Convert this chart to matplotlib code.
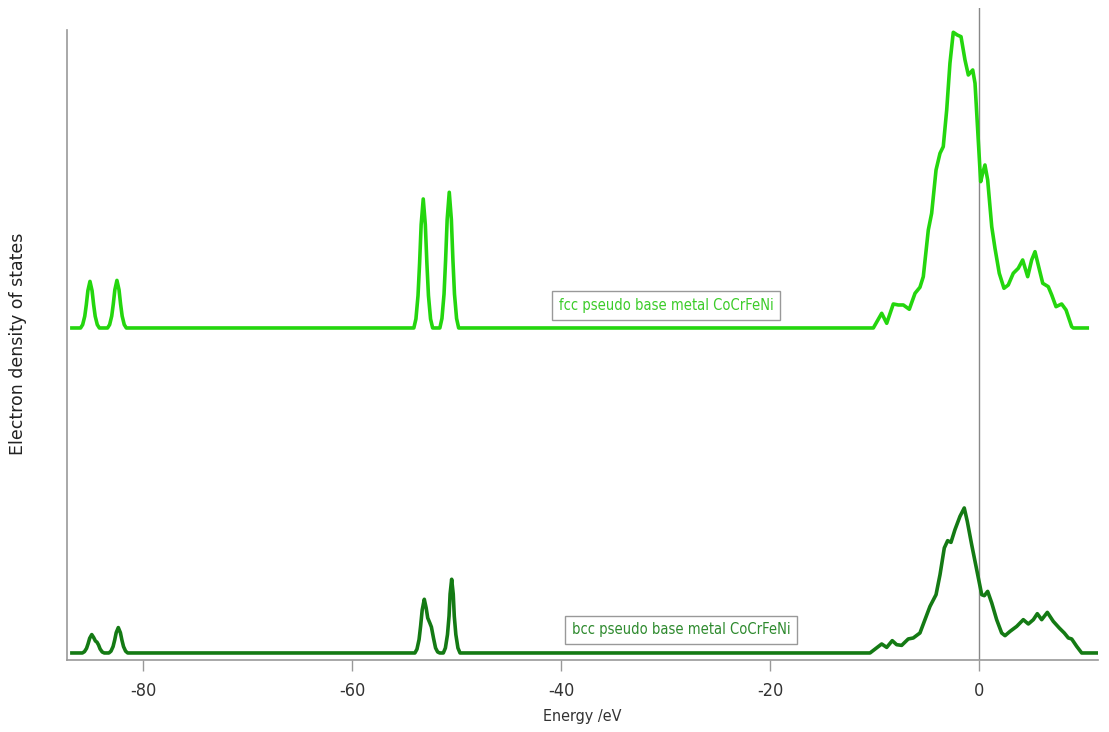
import matplotlib
matplotlib.use('Agg')
import numpy as np
import matplotlib.pyplot as plt

# energies (eV) and DOS (arb. units) for the two CoCrFeNi structures
E_fcc = [-86.8,
         -85.97, -85.77, -85.57, -85.42, -85.27, -85.07, -84.87, -84.72, -84.57, -84.37, -84.17,
         -83.39, -83.19, -82.99, -82.84, -82.69, -82.49, -82.29, -82.14, -81.99, -81.79, -81.59,
         -54.08, -53.88, -53.68, -53.53, -53.38, -53.18, -52.98, -52.83, -52.68, -52.48, -52.28,
         -51.59, -51.39, -51.19, -51.04, -50.89, -50.69, -50.49, -50.34, -50.19, -49.99, -49.79,
         -10.11, -9.31, -8.83, -8.20, -7.72, -7.24, -6.67, -6.12, -5.65, -5.33, -4.85,
         -4.53, -4.11, -3.73, -3.42, -3.09, -2.78, -2.46, -2.08, -1.72, -1.34, -1.02,
         -0.60, -0.38, -0.07, 0.16, 0.35, 0.57, 0.83, 1.22, 1.53, 1.94, 2.39, 2.80,
         3.28, 3.76, 4.18, 4.66, 5.04, 5.36, 5.67, 6.10, 6.63, 6.96, 7.37, 7.91,
         8.33, 8.87, 9.02, 10.36]
dos_fcc = [0,
           0, 0.33, 1.17, 2.33, 3.73, 4.66, 3.73, 2.33, 1.17, 0.33, 0,
           0, 0.33, 1.19, 2.38, 3.81, 4.76, 3.81, 2.38, 1.19, 0.33, 0,
           0, 0.9, 3.23, 6.45, 10.32, 12.9, 10.32, 6.45, 3.23, 0.9, 0,
           0, 0.95, 3.39, 6.79, 10.86, 13.57, 10.86, 6.79, 3.39, 0.95, 0,
           0, 1.47, 0.47, 2.4, 2.3, 2.3, 1.87, 3.47, 4.07, 5.13, 9.8,
           11.47, 15.8, 17.47, 18.13, 21.8, 26.47, 29.57, 29.3, 29.13, 26.8, 25.3,
           25.8, 24.47, 18.8, 14.63, 15.47, 16.3, 14.8, 10.13, 7.97, 5.47, 3.97, 4.3,
           5.47, 5.97, 6.8, 5.13, 6.8, 7.63, 6.3, 4.47, 4.13, 3.3, 2.13, 2.4,
           1.8, 0.13, 0, 0]

E_bcc = [-86.8,
         -85.8, -85.6, -85.4, -85.25, -85.1, -84.9, -84.72, -84.55, -84.4, -84.25, -84.1, -83.9, -83.7,
         -83.26, -83.06, -82.86, -82.71, -82.56, -82.36, -82.16, -82.01, -81.86, -81.66, -81.46,
         -53.98, -53.78, -53.58, -53.43, -53.28, -53.08, -52.9, -52.75, -52.55, -52.4, -52.2, -52.0, -51.8, -51.6,
         -51.26, -51.06, -50.86, -50.71, -50.61, -50.46, -50.31, -50.21, -50.06, -49.86, -49.66,
         -10.43, -9.31, -8.83, -8.30, -7.88, -7.40, -6.77, -6.29, -5.65, -5.17, -4.69,
         -4.11, -3.73, -3.32, -3.00, -2.68, -2.30, -1.82, -1.41, -1.12, -0.70, -0.22,
         0.26, 0.51, 0.83, 1.22, 1.69, 2.17, 2.49, 2.97, 3.61, 4.24, 4.72,
         5.20, 5.58, 6.00, 6.54, 7.11, 7.68, 8.16, 8.55, 8.87, 9.35, 9.83, 11.32]
dos_bcc = [0,
           0, 0.13, 0.46, 0.92, 1.47, 1.84, 1.55, 1.2, 1.08, 0.8, 0.4, 0.1, 0,
           0, 0.18, 0.64, 1.27, 2.03, 2.54, 2.03, 1.27, 0.64, 0.18, 0,
           0, 0.38, 1.34, 2.7, 4.3, 5.37, 4.5, 3.5, 3.0, 2.6, 1.5, 0.5, 0.1, 0,
           0, 0.5, 1.84, 3.69, 5.9, 7.37, 5.9, 3.69, 1.84, 0.5, 0,
           0, 0.9, 0.56, 1.23, 0.83, 0.76, 1.4, 1.5, 2.0, 3.33, 4.66,
           5.83, 7.83, 10.5, 11.23, 11.06, 12.33, 13.66, 14.5, 13.16, 10.83, 8.33,
           5.83, 5.73, 6.16, 5.0, 3.33, 2.0, 1.73, 2.16, 2.66, 3.33, 2.9,
           3.33, 3.93, 3.33, 4.06, 3.16, 2.5, 2.0, 1.5, 1.4, 0.66, 0, 0]

fcc_offset = 32.5
xticks = [-80, -60, -40, -20, 0]

fcc_col = '#24d60e'
bcc_col = '#147a14'
narrow = dict(family=['DejaVu Sans'], stretch='condensed')

fig = plt.figure(figsize=(11.09, 7.32), dpi=100)
ax = fig.add_axes([0.0604, 0.0984, 0.9297, 0.8907])

ax.axvline(0, color='#888888', lw=1.0, zorder=1)
ax.plot(E_fcc, np.array(dos_fcc) + fcc_offset, color=fcc_col, lw=2.6,
        solid_joinstyle='round', zorder=3)
ax.plot(E_bcc, dos_bcc, color=bcc_col, lw=2.6, solid_joinstyle='round', zorder=3)

ax.set_xlim(-87.27, 11.39)
ax.set_ylim(-0.7, 64.5)

for s in ['top', 'right']:
    ax.spines[s].set_visible(False)
for s in ['left', 'bottom']:
    ax.spines[s].set_color('#999999')
    ax.spines[s].set_linewidth(1.2)
ax.spines['left'].set_bounds(-0.7, 62.3)

ax.set_yticks([])
ax.set_xticks(xticks)
ax.set_xticklabels([str(t) for t in xticks], fontsize=13, color='#333333', **narrow)
ax.tick_params(axis='x', direction='out', length=8, width=1, color='#999999', pad=8)

ax.set_xlabel('Energy /eV', fontsize=11.5, color='#333333', labelpad=6, **narrow)
fig.text(18 / 1109, 1 - 344 / 732, 'Electron density of states', rotation=90,
         ha='center', va='center', fontsize=12.5, color='#222222')

box = dict(boxstyle='square,pad=0.45', fc='white', ec='#999999', lw=1)
ax.text(-29.95, 34.75, 'fcc pseudo base metal CoCrFeNi', fontsize=10.5,
        color='#3ccc2a', ha='center', va='center', bbox=box, zorder=4, **narrow)
ax.text(-28.5, 2.3, 'bcc pseudo base metal CoCrFeNi', fontsize=10.5,
        color='#2e8a2e', ha='center', va='center', bbox=box, zorder=4, **narrow)

fig.savefig('out.png', dpi=100)
